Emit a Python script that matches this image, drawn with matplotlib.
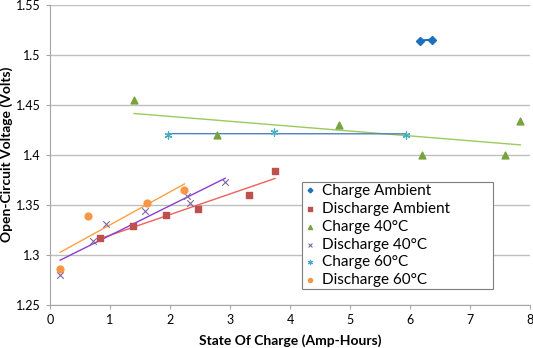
import matplotlib.pyplot as plt
import numpy as np

plt.rcParams['font.family'] = ['Lato', 'DejaVu Sans']

# data
charge_amb_x = [6.17, 6.37]
charge_amb_y = [1.514, 1.515]

dis_amb_x = [0.83, 1.38, 1.93, 2.47, 3.31, 3.75]
dis_amb_y = [1.317, 1.329, 1.340, 1.346, 1.360, 1.384]

charge_40_x = [1.40, 2.78, 4.82, 6.20, 7.59, 7.84]
charge_40_y = [1.455, 1.420, 1.430, 1.400, 1.400, 1.434]

dis_40_x = [0.17, 0.71, 0.93, 1.58, 2.28, 2.34, 2.92]
dis_40_y = [1.280, 1.314, 1.331, 1.344, 1.359, 1.352, 1.373]

charge_60_x = [1.97, 3.74, 5.93]
charge_60_y = [1.420, 1.423, 1.420]

dis_60_x = [0.17, 0.64, 1.62, 2.24]
dis_60_y = [1.286, 1.339, 1.352, 1.365]


def trend(ax, x, y, color):
    x = np.array(x)
    k, b = np.polyfit(x, y, 1)
    xs = np.array([x.min(), x.max()])
    ax.plot(xs, k * xs + b, color=color, lw=1.0, zorder=2)


fig = plt.figure(figsize=(5.33, 3.48), dpi=100)
ax = fig.add_axes([0.0938, 0.1236, 0.9006, 0.8634])

ax.plot(charge_amb_x, charge_amb_y, '-D', color='#1F6FBF', ms=4, lw=1.5,
        label='Charge Ambient', zorder=3)
ax.scatter(dis_amb_x, dis_amb_y, marker='s', s=22, color='#C0504D',
           label='Discharge Ambient', zorder=3)
ax.scatter(charge_40_x, charge_40_y, marker='^', s=24, color='#77A33C',
           label='Charge 40°C', zorder=3)
ax.scatter(dis_40_x, dis_40_y, marker='x', s=22, color='#8064A2', lw=0.8,
           label='Discharge 40°C', zorder=3)
ax.scatter(charge_60_x, charge_60_y, marker=(6, 2, 0), s=26, color='#4BACC6',
           lw=0.9, label='Charge 60°C', zorder=3)
ax.scatter(dis_60_x, dis_60_y, marker='o', s=24, color='#F79646',
           label='Discharge 60°C', zorder=3)

trend(ax, dis_amb_x, dis_amb_y, '#F0605A')
trend(ax, charge_40_x, charge_40_y, '#9BCB59')
trend(ax, dis_40_x, dis_40_y, '#8A3FD0')
trend(ax, charge_60_x, charge_60_y, '#4F81BD')
trend(ax, dis_60_x, dis_60_y, '#FFA040')

ax.set_xlim(0, 8)
ax.set_ylim(1.25, 1.55)
ax.set_xticks(range(0, 9))
ax.set_yticks([1.25, 1.3, 1.35, 1.4, 1.45, 1.5, 1.55])
ax.set_yticklabels(['1.25', '1.3', '1.35', '1.4', '1.45', '1.5', '1.55'])
ax.grid(axis='y', color='#BFBFBF', lw=1)
ax.set_axisbelow(True)
for s in ['top', 'right']:
    ax.spines[s].set_visible(False)
for s in ['left', 'bottom']:
    ax.spines[s].set_color('#A6A6A6')
ax.tick_params(colors='#A6A6A6', labelcolor='black', labelsize=9, length=3)

ax.set_xlabel('State Of Charge (Amp-Hours)', fontsize=10, fontweight='bold', labelpad=6)
ax.set_ylabel('Open-Circuit Voltage (Volts)', fontsize=10, fontweight='bold')
ax.yaxis.set_label_coords(-0.077, 0.5)

leg = ax.legend(loc='upper left', bbox_to_anchor=(0.525, 0.41, 0.398, 0.0),
                mode='expand', fontsize=11,
                fancybox=False, edgecolor='#7F7F7F', framealpha=1,
                handletextpad=0.35, handlelength=0.8, borderpad=0.15,
                labelspacing=0.25, markerscale=0.6, borderaxespad=0)
leg.get_frame().set_linewidth(0.8)
leg.legend_handles[0].set_linestyle('None')

fig.savefig('out.png', dpi=100)
